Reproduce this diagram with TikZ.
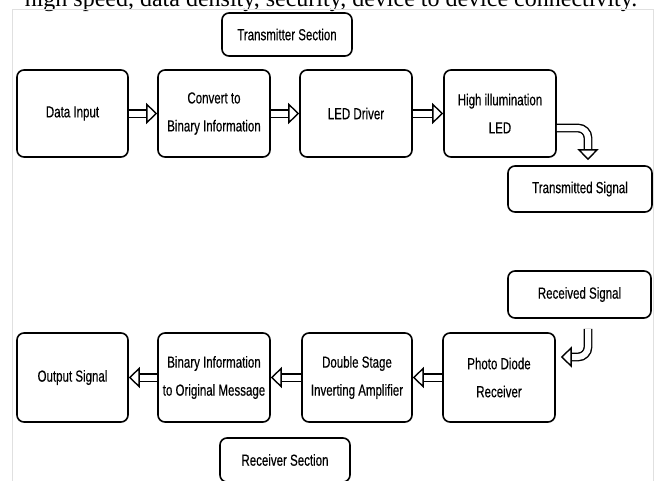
\documentclass[tikz,border=0pt]{standalone}
\usepackage{fontspec}
\setmainfont{Liberation Serif}
\newfontfamily\blockfont{Liberation Sans}[FakeStretch=0.72, FakeBold=0.4]
\usetikzlibrary{arrows.meta}

\tikzset{
  block/.style={draw, black, line width=1.6pt, rounded corners=7pt, inner sep=0pt,
    align=center, font=\blockfont\fontsize{16pt}{28pt}\selectfont},
  dblline/.style={double, double distance=6pt, line width=1.4pt, shorten >=10pt},
  headtip/.style={line width=1.4pt, -{Triangle[open, fill=white, length=11pt, width=21pt]}},
}

\begin{document}
\begin{tikzpicture}[x=1pt,y=-1pt]
            \useasboundingbox (0,0) rectangle (662,480);
            \clip (0,0) rectangle (662,480);
            % page text and frame
            \node [anchor=base, font=\fontsize{24pt}{24pt}\selectfont] (pagetext) at (331,6) {high speed, data density, security, device to device connectivity.};
            \draw [line width=0.8, black!12] (12,9) rectangle (653,490);
            % transmitter
            \node [block, minimum width=130pt, minimum height=43pt] (txsec) at (287,34.5) {Transmitter Section};
            \node [block, minimum width=111pt, minimum height=87pt] (din) at (72.5,113.5) {Data Input};
            \node [block, minimum width=112pt, minimum height=87pt] (conv) at (214,113.5) {Convert to\\Binary Information};
            \node [block, minimum width=112pt, minimum height=87pt] (drv) at (356,113.5) {LED Driver};
            \node [block, minimum width=112pt, minimum height=87pt] (led) at (500,113.5) {High illumination\\LED};
            \node [block, minimum width=144pt, minimum height=46pt] (txsig) at (580,189) {Transmitted Signal};
            % arrows right
            \draw [dblline] (din) -- (conv);
            \draw [headtip] ([xshift=-11pt]conv.west) -- (conv.west);
            \draw [dblline] (conv) -- (drv);
            \draw [headtip] ([xshift=-11pt]drv.west) -- (drv.west);
            \draw [dblline] (drv) -- (led);
            \draw [headtip] ([xshift=-11pt]led.west) -- (led.west);
            % arrow down
            \draw [dblline, rounded corners=10pt, shorten >=15pt] ([yshift=-14.5pt]led.east) -| ([xshift=8pt]txsig.north);
            \draw [headtip] ([xshift=8pt,yshift=16pt]txsig.north) -- ([xshift=8pt,yshift=5pt]txsig.north);
            % receiver
            \node [block, minimum width=143pt, minimum height=47pt] (rxsig) at (579.5,294.5) {Received Signal};
            \node [block, minimum width=112pt, minimum height=89pt] (pd) at (499,377.5) {Photo Diode\\Receiver};
            \node [block, minimum width=110pt, minimum height=89pt] (amp) at (357,377.5) {Double Stage\\Inverting Amplifier};
            \node [block, minimum width=112pt, minimum height=89pt] (msg) at (214,377.5) {Binary Information\\to Original Message};
            \node [block, minimum width=111pt, minimum height=89pt] (out) at (72.5,377.5) {Output Signal};
            \node [block, minimum width=130pt, minimum height=44pt] (rxsec) at (285,460) {Receiver Section};
            % arrow left
            \draw [dblline, rounded corners=10pt, shorten <=10pt, shorten >=15pt] ([xshift=8.5pt]rxsig.south) |- ([yshift=20.5pt]pd.east);
            \draw [headtip] ([xshift=16pt,yshift=20.5pt]pd.east) -- ([xshift=5pt,yshift=20.5pt]pd.east);
            % arrows left
            \draw [dblline] (pd) -- (amp);
            \draw [headtip] ([xshift=11pt]amp.east) -- (amp.east);
            \draw [dblline] (amp) -- (msg);
            \draw [headtip] ([xshift=11pt]msg.east) -- (msg.east);
            \draw [dblline] (msg) -- (out);
            \draw [headtip] ([xshift=11pt]out.east) -- (out.east);
\end{tikzpicture}
\end{document}
